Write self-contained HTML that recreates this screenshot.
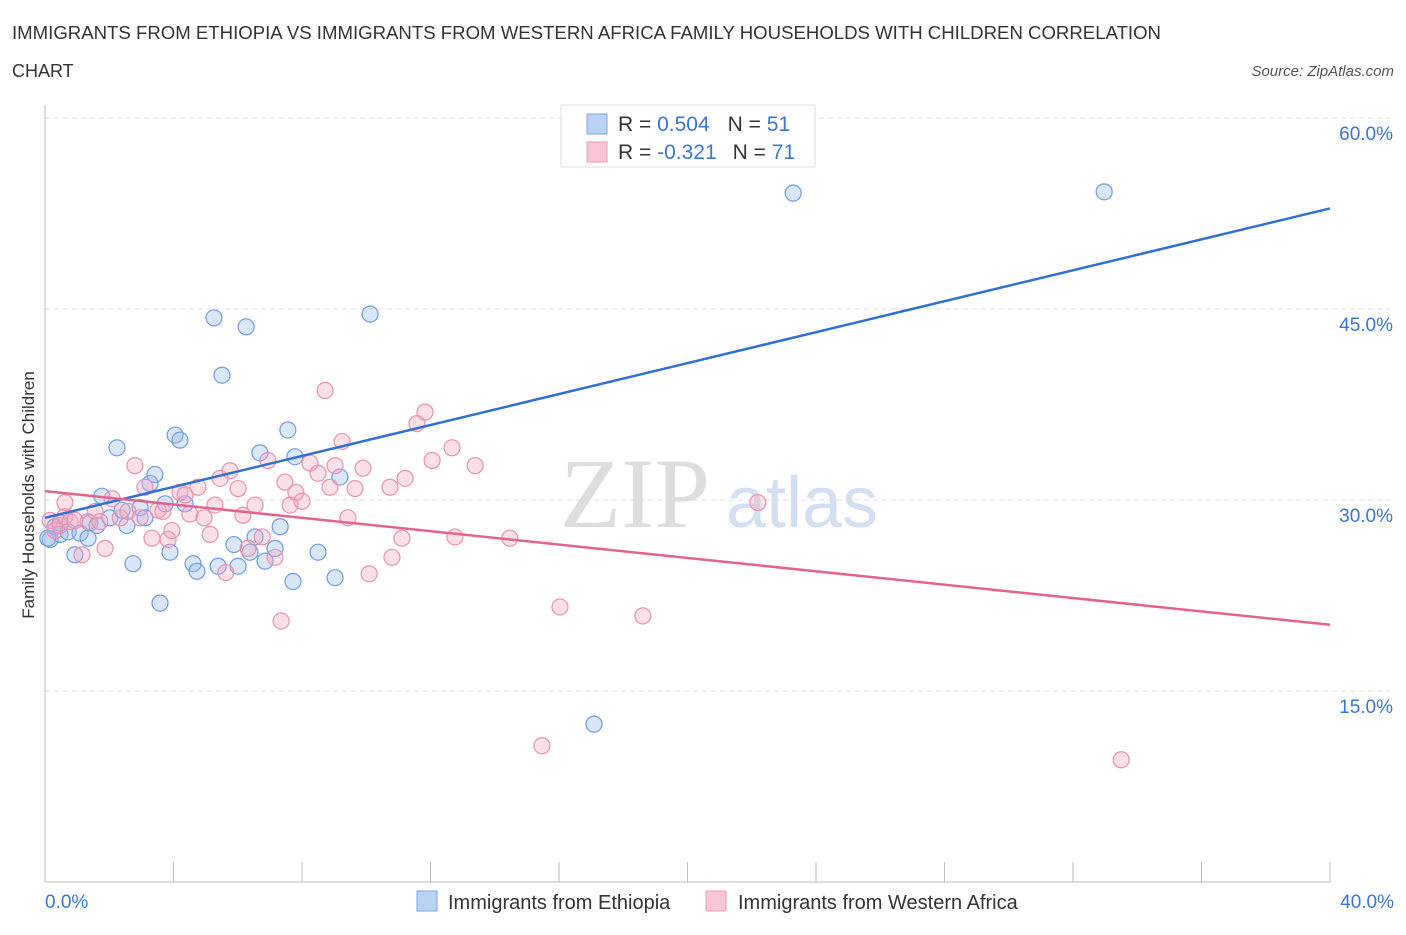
<!DOCTYPE html>
<html><head><meta charset="utf-8">
<style>
body{margin:0;background:#fff;font-family:"Liberation Sans",sans-serif;}
</style></head>
<body>
<svg id="chart" width="1406" height="930" style="font-family:'Liberation Sans',sans-serif">
<text x="12" y="39" font-size="18" fill="#333" textLength="1149" lengthAdjust="spacingAndGlyphs">IMMIGRANTS FROM ETHIOPIA VS IMMIGRANTS FROM WESTERN AFRICA FAMILY HOUSEHOLDS WITH CHILDREN CORRELATION</text>
<text x="12" y="77" font-size="18" fill="#333">CHART</text>
<text x="1394" y="76" font-size="15" fill="#555" font-style="italic" text-anchor="end">Source: ZipAtlas.com</text>
<text x="635" y="527" font-size="100" fill="#ddd" style="font-family:'Liberation Serif',serif" text-anchor="middle">ZIP</text>
<text x="802" y="527" font-size="72" fill="#d4e0f2" text-anchor="middle">atlas</text>
<g id="grid"></g>
<g id="axes"></g>
<g id="marks"></g>
<text x="34" y="495" font-size="17" fill="#333" text-anchor="middle" transform="rotate(-90 34 495)">Family Households with Children</text>
<g>
<rect x="561" y="105" width="254" height="62" fill="#fff" stroke="#ddd"/>
<rect x="587" y="114" width="20" height="20" fill="#b9d1f5" stroke="#7aa3e3"/>
<rect x="587" y="142" width="20" height="20" fill="#f9c6d6" stroke="#eb9ab5"/>
<text x="618" y="131" font-size="21" fill="#333">R = <tspan fill="#3a75d6">0.504</tspan><tspan dx="18" fill="#333">N = </tspan><tspan fill="#3a75d6">51</tspan></text>
<text x="618" y="159" font-size="21" fill="#333">R = <tspan fill="#3a75d6">-0.321</tspan><tspan dx="16" fill="#333">N = </tspan><tspan fill="#3a75d6">71</tspan></text>
</g>
<rect x="417" y="891" width="20" height="20" fill="#b9d1f5" stroke="#7aa3e3"/>
<text x="448" y="909" font-size="20" fill="#333">Immigrants from Ethiopia</text>
<rect x="706" y="891" width="20" height="20" fill="#f9c6d6" stroke="#eb9ab5"/>
<text x="738" y="909" font-size="20" fill="#333">Immigrants from Western Africa</text>
</svg>
<script>
const yTicks=[15,30,45,60];
const xTickLabels=["0.0%","40.0%"];
const blueX=[0.16,0.31,0.47,0.72,0.93,1.09,1.34,1.40,1.62,1.77,2.02,2.24,2.40,2.55,2.74,2.96,3.11,3.27,3.42,3.58,3.74,3.89,4.05,4.20,4.36,4.61,4.73,5.26,5.39,5.51,5.88,6.01,6.26,6.38,6.54,6.69,6.85,7.16,7.32,7.56,7.72,7.78,8.50,9.03,9.18,10.12,17.09,23.29,32.97,0.09,0.47];
const blueY=[26.9,27.9,27.3,27.5,25.7,27.4,27.0,28.2,28.0,30.3,28.6,34.1,29.2,28.0,25.0,29.4,28.6,31.3,32.0,21.9,29.7,25.9,35.1,34.7,29.7,25.0,24.4,44.3,24.8,39.8,26.5,24.8,43.6,25.9,27.1,33.7,25.2,26.2,27.9,35.5,23.6,33.4,25.9,23.9,31.8,44.6,12.4,54.1,54.2,27.0,28.2];
const pinkX=[0.16,0.31,0.47,0.62,0.78,0.93,1.15,1.34,1.56,1.71,1.87,2.09,2.34,2.58,2.80,2.96,3.11,3.33,3.52,3.67,3.83,3.95,4.20,4.36,4.51,4.76,4.95,5.14,5.29,5.45,5.63,5.76,6.01,6.16,6.32,6.54,6.76,6.94,7.16,7.35,7.47,7.63,7.81,8.00,8.25,8.50,8.72,8.87,9.03,9.25,9.43,9.65,9.90,10.09,10.74,10.80,11.11,11.21,11.58,11.83,12.05,12.67,12.76,13.39,14.47,15.47,16.03,18.61,22.19,33.50,0.62];
const pinkY=[28.4,27.6,28.0,28.7,28.3,28.4,25.7,28.3,29.1,28.3,26.2,30.1,28.6,29.1,32.7,28.6,31.0,27.0,29.2,29.1,26.9,27.6,30.6,30.4,28.9,31.0,28.6,27.3,29.6,31.7,24.3,32.3,30.9,28.8,26.2,29.6,27.1,33.1,25.5,20.5,31.4,29.6,30.6,29.9,32.9,32.1,38.6,31.0,32.7,34.6,28.6,30.9,32.5,24.2,31.0,25.5,27.0,31.7,36.0,36.9,33.1,34.1,27.1,32.7,27.0,10.7,21.6,20.9,29.8,9.6,29.8];
const blueLine=[28.6,52.9];
const pinkLine=[30.7,20.2];
const X0=45,X1=1330,Y0=882;
const xs=v=>X0+v*(X1-X0)/40;
const ys=v=>Y0-v*191/15;
const NS="http://www.w3.org/2000/svg";
function mk(tag,attrs,parent){const e=document.createElementNS(NS,tag);for(const k in attrs)e.setAttribute(k,attrs[k]);parent.appendChild(e);return e;}
const grid=document.getElementById('grid'),axes=document.getElementById('axes'),marks=document.getElementById('marks');
yTicks.forEach(t=>{
 const l=mk('line',{x1:X0,x2:1390,y1:ys(t),y2:ys(t),stroke:'#ddd','stroke-dasharray':'5,4'},grid);
 
 
 const tx=mk('text',{x:1393,y:ys(t)+22,'font-size':19,fill:'#3a75d6','text-anchor':'end'},grid);
 tx.textContent=t.toFixed(1)+'%';
 
 
});
const ax=mk('line',{x1:X0,x2:X1,y1:Y0,y2:Y0,stroke:'#bbb'},axes);


const ay=mk('line',{x1:X0,x2:X0,y1:105,y2:Y0,stroke:'#bbb'},axes);


for(let i=0;i<=10;i++){
 const t=mk('line',{x1:xs(i*4),x2:xs(i*4),y1:Y0-20,y2:Y0,stroke:'#bbb'},axes);
 
 
}
[[0,'start',45],[40,'end',1394]].forEach((d,i)=>{
 const t=mk('text',{x:d[2],y:908,'font-size':19,fill:'#3a75d6','text-anchor':d[1]},axes);
 t.textContent=xTickLabels[i];
 
 
});
blueX.forEach((x,i)=>{
 const c=mk('circle',{cx:xs(x),cy:ys(blueY[i]),r:8,fill:'rgba(150,185,240,0.35)',stroke:'#6d9be3','stroke-width':1.2},marks);
 
 
});
pinkX.forEach((x,i)=>{
 const c=mk('circle',{cx:xs(x),cy:ys(pinkY[i]),r:8,fill:'rgba(245,165,190,0.35)',stroke:'#e990ae','stroke-width':1.2},marks);
 
 
});
const bl=mk('line',{x1:xs(0),y1:ys(blueLine[0]),x2:xs(40),y2:ys(blueLine[1]),stroke:'#2f6fd6','stroke-width':2.5},marks);


const pl=mk('line',{x1:xs(0),y1:ys(pinkLine[0]),x2:xs(40),y2:ys(pinkLine[1]),stroke:'#e4628e','stroke-width':2.5},marks);


</script>
</body></html>
